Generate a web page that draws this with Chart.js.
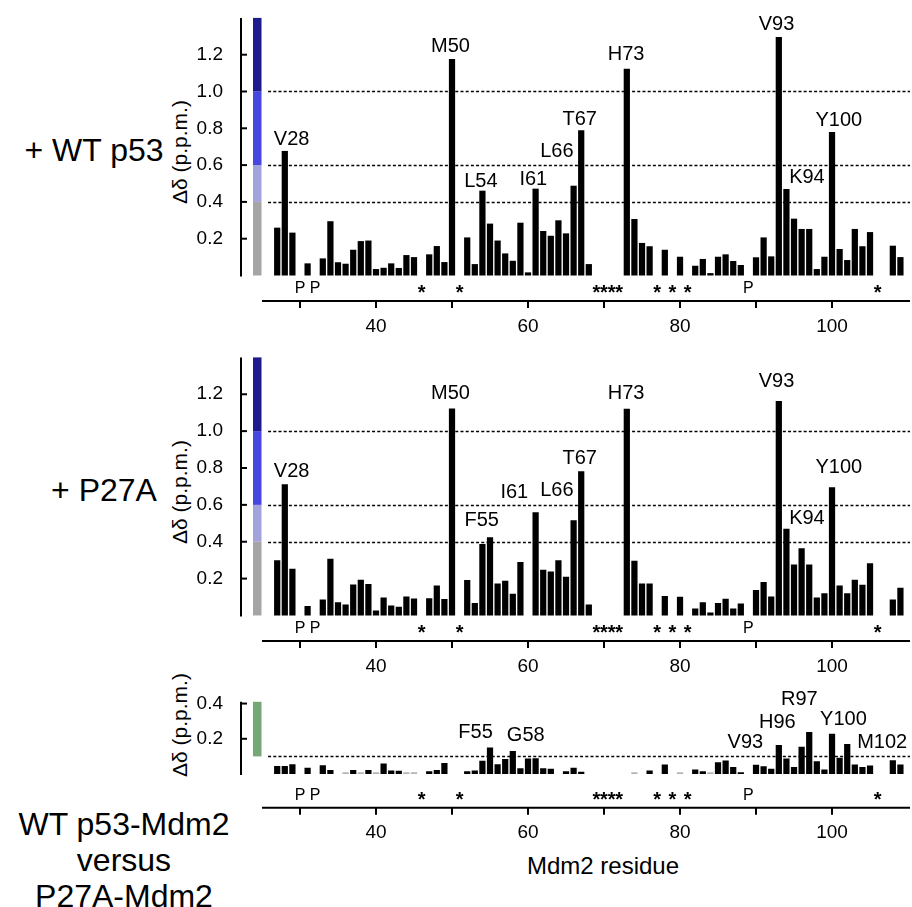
<!DOCTYPE html>
<html><head><meta charset="utf-8">
<script src="https://cdn.jsdelivr.net/npm/chart.js@4.4.0/dist/chart.umd.min.js"></script>
<style>
body{margin:0;width:912px;height:907px;background:#fff;position:relative;overflow:hidden;font-family:"Liberation Sans",Arial,sans-serif;color:#000;}
canvas{position:absolute;left:0;}
.big{position:absolute;font-size:32px;white-space:nowrap;transform:translate(-50%,-50%);text-align:center;line-height:36px;}
.ytl{position:absolute;font-size:21px;white-space:nowrap;transform:translate(-50%,-50%) rotate(-90deg);}
.xtl{position:absolute;font-size:24px;white-space:nowrap;transform:translate(-50%,-50%);}
</style></head><body>
<div class="big" style="left:94px;top:150px">+ WT p53</div>
<div class="big" style="left:104px;top:490px">+ P27A</div>
<div class="big" style="left:124px;top:860px">WT p53-Mdm2<br>versus<br>P27A-Mdm2</div>
<div class="ytl" style="left:180px;top:152px">Δδ (p.p.m.)</div>
<div class="ytl" style="left:180px;top:492px">Δδ (p.p.m.)</div>
<div class="ytl" style="left:180px;top:725px">Δδ (p.p.m.)</div>
<div class="xtl" style="left:603px;top:866px">Mdm2 residue</div>
<canvas id="c1" width="912" height="340" style="top:0px"></canvas>
<canvas id="c2" width="912" height="340" style="top:340px"></canvas>
<canvas id="c3" width="912" height="227" style="top:680px"></canvas>
<script>
// ---------------- data ----------------
const residues = [27,28,29,30,31,32,33,34,35,36,37,38,39,40,41,42,43,44,45,46,47,48,49,50,51,52,53,54,55,56,57,58,59,60,61,62,63,64,65,66,67,68,69,70,71,72,73,74,75,76,77,78,79,80,81,82,83,84,85,86,87,88,89,90,91,92,93,94,95,96,97,98,99,100,101,102,103,104,105,106,107,108,109];
const wtShift = [0.26,0.677,0.233,null,0.066,null,0.093,0.295,0.072,0.064,0.14,0.187,0.19,0.035,0.042,0.066,0.041,0.111,0.10,null,0.115,0.16,0.073,1.177,null,0.207,0.062,0.461,0.282,0.19,0.12,0.08,0.287,0.017,0.472,0.242,0.216,0.30,0.229,0.488,0.79,0.062,null,null,null,null,1.124,0.307,0.177,0.159,null,0.14,null,0.102,null,0.053,0.09,0.013,0.102,0.115,0.079,0.057,null,0.099,0.207,0.104,1.296,0.47,0.309,0.253,0.253,0.035,0.102,0.78,0.144,0.084,0.253,0.159,0.236,null,null,0.162,0.10];
const p27aShift = [0.30,0.712,0.254,null,0.051,null,0.087,0.308,0.071,0.06,0.168,0.194,0.17,0.027,0.098,0.054,0.047,0.103,0.092,null,0.094,0.163,0.089,1.123,null,0.192,0.067,0.388,0.424,0.174,0.188,0.118,0.29,null,0.56,0.248,0.239,0.299,0.21,0.516,0.783,0.06,null,null,null,null,1.121,0.297,0.174,0.174,null,0.105,null,0.101,null,0.038,0.072,0.016,0.067,0.091,0.038,0.065,null,0.138,0.181,0.103,1.163,0.471,0.277,0.364,0.276,0.098,0.12,0.696,0.163,0.12,0.194,0.167,0.283,null,null,0.087,0.15];
const diffShift = [0.045,0.045,0.055,null,0.035,null,0.05,0.022,null,0.01,0.022,0.01,0.022,0.01,0.06,0.02,0.018,0.01,0.01,null,0.015,0.022,0.062,null,null,0.015,0.02,0.075,0.15,0.055,0.085,0.13,0.033,0.088,0.09,0.033,0.03,null,0.015,0.035,0.012,null,null,null,null,null,null,0.01,null,0.02,null,0.054,null,0.01,null,0.025,0.015,0.01,0.067,0.077,0.039,0.01,null,0.052,0.044,0.03,0.164,0.088,0.039,0.155,0.238,0.073,0.026,0.228,0.092,0.171,0.054,0.039,0.048,null,null,0.078,0.054];
const diffGreyResidues = [36,38,40,44,45,74,80,84];
const markerResidues = [30,32,46,51,69,70,71,72,77,79,81,89,106];
const markerSymbols  = ['P','P','*','*','*','*','*','*','*','*','*','P','*'];
const xTickValues = [30,40,50,60,70,80,90,100];
const xTickLabels = [40,60,80,100];
const shiftTicks = [0.2,0.4,0.6,0.8,1.0,1.2];
const diffTicks = [0.2,0.4];
const shiftBandEdges = [0,0.4,0.6,1.0,1.4];
const shiftBandColors = ['#a5a5a5','#a3a3dc','#4646e0','#1c1c8e'];
const diffBandEdges = [0.1,0.41];
const diffBandColors = ['#76a776'];
const shiftDotted = [0.4,0.6,1.0];
const diffDotted = [0.1];
const wtLabels = [['V28',28.9,0.747],['M50',49.8,1.25],['L54',53.8,0.519],['I61',60.7,0.528],['L66',63.8,0.678],['T67',66.8,0.854],['H73',72.9,1.208],['V93',92.7,1.368],['K94',96.7,0.539],['Y100',100.9,0.85]];
const p27aLabels = [['V28',28.9,0.788],['M50',49.8,1.207],['F55',53.9,0.523],['I61',58.2,0.675],['L66',63.8,0.685],['T67',66.8,0.856],['H73',72.9,1.209],['V93',92.7,1.277],['K94',96.7,0.534],['Y100',100.9,0.81]];
const diffLabels = [['F55',53.1,0.239],['G58',59.7,0.226],['V93',88.6,0.186],['H96',92.8,0.30],['R97',95.7,0.428],['Y100',101.5,0.314],['M102',106.6,0.186]];

// ---------------- drawing ----------------
Chart.defaults.font.family = '"Liberation Sans", Arial, sans-serif';
Chart.defaults.color = '#000';

function makeDeco(cfg){
  return {
    id:'deco',
    beforeDatasetsDraw(chart){
      const ctx=chart.ctx, x=chart.scales.x, y=chart.scales.y, a=chart.chartArea;
      ctx.save();
      ctx.strokeStyle='#000'; ctx.lineWidth=1.3; ctx.setLineDash([3,2.2]);
      cfg.dotted.forEach(v=>{
        const py=Math.round(y.getPixelForValue(v))+0.5;
        ctx.beginPath(); ctx.moveTo(x.getPixelForValue(25.8),py); ctx.lineTo(a.right,py); ctx.stroke();
      });
      ctx.restore();
    },
    afterDraw(chart){
      const ctx=chart.ctx, x=chart.scales.x, y=chart.scales.y, a=chart.chartArea;
      ctx.save();
      for(let i=0;i<cfg.bandColors.length;i++){
        const y0=y.getPixelForValue(cfg.bandEdges[i]), y1=y.getPixelForValue(cfg.bandEdges[i+1]);
        ctx.fillStyle=cfg.bandColors[i];
        ctx.fillRect(a.left+12,y1,8.5,y0-y1);
      }
      ctx.strokeStyle='#000'; ctx.lineWidth=2;
      ctx.beginPath();
      ctx.moveTo(a.left,y.getPixelForValue(0)+1);
      ctx.lineTo(a.left,y.getPixelForValue(cfg.yTop));
      ctx.stroke();
      cfg.yTicks.forEach(v=>{
        const py=y.getPixelForValue(v);
        ctx.beginPath(); ctx.moveTo(a.left,py); ctx.lineTo(a.left+6,py); ctx.stroke();
      });
      ctx.beginPath();
      ctx.moveTo(x.getPixelForValue(25),a.bottom); ctx.lineTo(a.right,a.bottom); ctx.stroke();
      markerResidues.forEach((r,i)=>{
        const s=markerSymbols[i], px=x.getPixelForValue(r), py=a.bottom-14;
        ctx.fillStyle='#000'; ctx.textAlign='center'; ctx.textBaseline='alphabetic';
        if(s==='*'){ ctx.font='bold 20px "Liberation Sans", Arial, sans-serif'; ctx.fillText(s,px,py+12); }
        else { ctx.font='16px "Liberation Sans", Arial, sans-serif'; ctx.fillText(s,px,py+5.8); }
      });
      ctx.font='20px "Liberation Sans", Arial, sans-serif';
      ctx.textAlign='center'; ctx.textBaseline='middle'; ctx.fillStyle='#000';
      cfg.labels.forEach(l=>{ ctx.fillText(l[0],x.getPixelForValue(l[1]),y.getPixelForValue(l[2])+1); });
      ctx.restore();
    }
  };
}

function makeChart(id, values, cfg){
  const pts=[], cols=[];
  residues.forEach((r,i)=>{
    if(values[i]!==null){
      pts.push({x:r,y:values[i]});
      cols.push(cfg.grey && cfg.grey.includes(r) ? '#b4b4b4' : '#000');
    }
  });
  return new Chart(document.getElementById(id),{
    type:'bar',
    data:{datasets:[{data:pts,backgroundColor:cols,borderWidth:0,barPercentage:0.82,categoryPercentage:1}]},
    options:{
      responsive:false, animation:false, events:[],
      layout:{autoPadding:false,padding:{top:cfg.padTop,right:2,left:0,bottom:0}},
      plugins:{legend:{display:false},tooltip:{enabled:false}},
      scales:{
        x:{type:'linear',min:22.237,max:110.26,offset:false,
           border:{display:false},
           grid:{display:true,offset:false,drawOnChartArea:false,drawTicks:true,tickLength:7,lineWidth:2,color:'#000'},
           ticks:{autoSkip:false,maxRotation:0,padding:7,font:{size:19},
                  callback:v=>xTickLabels.includes(v)?String(v):''},
           afterBuildTicks:s=>{s.ticks=xTickValues.map(v=>({value:v}));},
           afterFit:s=>{s.height=cfg.xHeight;s.paddingLeft=0;s.paddingRight=0;}
        },
        y:{type:'linear',min:cfg.yMin,max:cfg.yMax,
           border:{display:false},
           grid:{display:false},
           ticks:{padding:10,font:{size:19},callback:v=>v.toFixed(1)},
           afterBuildTicks:s=>{s.ticks=cfg.yTicks.map(v=>({value:v}));},
           afterFit:s=>{s.width=241;s.paddingTop=0;s.paddingBottom=0;}
        }
      }
    },
    plugins:[makeDeco(cfg)]
  });
}

makeChart('c1', wtShift, {padTop:17.9,xHeight:39,yMin:-0.1386,yMax:1.4,yTop:1.4,yTicks:shiftTicks,
  bandEdges:shiftBandEdges,bandColors:shiftBandColors,dotted:shiftDotted,labels:wtLabels});
makeChart('c2', p27aShift, {padTop:17.4,xHeight:39,yMin:-0.1386,yMax:1.4,yTop:1.4,yTicks:shiftTicks,
  bandEdges:shiftBandEdges,bandColors:shiftBandColors,dotted:shiftDotted,labels:p27aLabels});
makeChart('c3', diffShift, {padTop:21.8,xHeight:99.3,yMin:-0.1915,yMax:0.41,yTop:0.41,yTicks:diffTicks,
  bandEdges:diffBandEdges,bandColors:diffBandColors,dotted:diffDotted,labels:diffLabels,grey:diffGreyResidues});
</script>
</body></html>
